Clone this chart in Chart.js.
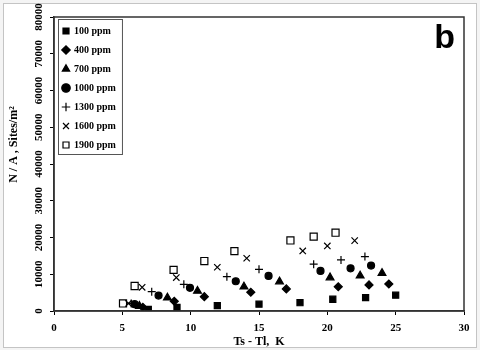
<!DOCTYPE html>
<html>
<head>
<meta charset="utf-8">
<script src="https://cdn.jsdelivr.net/npm/chart.js@4"></script>
<style>
  body { margin: 0; background: #f4f4f4; }
  #frame { position: absolute; left: 3px; top: 3px; width: 472px; height: 343px; border: 1px solid #c4c4c4; background: #fff; }
  #wrap { position: absolute; left: 0; top: 0; width: 480px; height: 350px; }
</style>
</head>
<body>
<div id="frame"></div>
<div id="wrap"><canvas id="chart"></canvas></div>
<script>
// Ts - Tl (K) and N/A (sites/m2) per concentration
const ppmLabels = ["100 ppm", "400 ppm", "700 ppm", "1000 ppm", "1300 ppm", "1600 ppm", "1900 ppm"];

const dt100 = [6.9, 9.0, 11.95, 15.0, 18.0, 20.4, 22.8, 25.0];
const na100 = [450, 1000, 1450, 1850, 2250, 3200, 3650, 4300];

const dt400 = [6.5, 8.8, 11.0, 14.4, 17.0, 20.8, 23.05, 24.5];
const na400 = [1000, 2650, 3900, 5100, 6000, 6600, 7100, 7350];

const dt700 = [6.25, 8.3, 10.5, 13.9, 16.5, 20.2, 22.4, 24.0];
const na700 = [1350, 3600, 5450, 6600, 8000, 9100, 9600, 10300];

const dt1000 = [5.9, 7.65, 9.95, 13.3, 15.7, 19.5, 21.7, 23.2];
const na1000 = [1850, 4200, 6300, 8100, 9550, 10900, 11600, 12350];

const dt1300 = [5.65, 7.15, 9.5, 12.65, 15.0, 19.0, 21.0, 22.75];
const na1300 = [2050, 5250, 7250, 9350, 11350, 12750, 13900, 14800];

const dt1600 = [5.45, 6.45, 8.95, 11.95, 14.1, 18.2, 20.0, 22.0];
const na1600 = [2050, 6450, 9100, 11900, 14350, 16350, 17700, 19150];

const dt1900 = [5.05, 5.9, 8.75, 11.0, 13.2, 17.3, 19.0, 20.6];
const na1900 = [2050, 6800, 11200, 13600, 16300, 19200, 20250, 21300];

const xTicks = [0, 5, 10, 15, 20, 25, 30];
const yTicks = [0, 10000, 20000, 30000, 40000, 50000, 60000, 70000, 80000];

const serif = "'Liberation Serif', 'Times New Roman', serif";

const toPoints = (xs, ys) => xs.map((x, i) => ({ x: x, y: ys[i] }));

const makeSet = (label, xs, ys, style, radius, fill) => ({
  label: label,
  data: toPoints(xs, ys),
  pointStyle: style,
  pointRadius: radius,
  pointHoverRadius: radius,
  backgroundColor: fill,
  borderColor: "#000",
  pointBorderWidth: 1.2,
  showLine: false,
});

// box around the plot, legend frame and the panel letter
const decorations = {
  id: "decorations",
  afterDraw(chart) {
    const ctx = chart.ctx;
    const area = chart.chartArea;
    ctx.save();
    ctx.strokeStyle = "#333";
    ctx.lineWidth = 1.5;
    ctx.strokeRect(area.left, area.top, area.right - area.left, area.bottom - area.top);

    const boxes = chart.legend.legendHitBoxes;
    if (boxes && boxes.length) {
      let l = Infinity, t = Infinity, r = -Infinity, b = -Infinity;
      boxes.forEach((h) => {
        l = Math.min(l, h.left);
        t = Math.min(t, h.top);
        r = Math.max(r, h.left + h.width);
        b = Math.max(b, h.top + h.height);
      });
      ctx.strokeStyle = "#555";
      ctx.lineWidth = 1;
      ctx.strokeRect(l - 4.5, t - 6.5, r - l + 11, b - t + 11);
    }

    ctx.fillStyle = "#000";
    ctx.font = "bold 34px 'Liberation Sans', Arial, sans-serif";
    ctx.textAlign = "right";
    ctx.textBaseline = "alphabetic";
    ctx.fillText("b", area.right - 9, area.top + 31);
    ctx.restore();
  },
};

new Chart(document.getElementById("chart"), {
  type: "scatter",
  data: {
    datasets: [
      makeSet(ppmLabels[0], dt100, na100, "rect", 4.3, "#000"),
      makeSet(ppmLabels[1], dt400, na400, "rectRot", 4, "#000"),
      makeSet(ppmLabels[2], dt700, na700, "triangle", 4.5, "#000"),
      makeSet(ppmLabels[3], dt1000, na1000, "circle", 3.5, "#000"),
      makeSet(ppmLabels[4], dt1300, na1300, "cross", 4, "#000"),
      makeSet(ppmLabels[5], dt1600, na1600, "crossRot", 4.5, "#000"),
      makeSet(ppmLabels[6], dt1900, na1900, "rect", 5, "#fff"),
    ],
  },
  options: {
    responsive: true,
    maintainAspectRatio: false,
    animation: false,
    layout: { padding: { top: 17, right: 16, left: 7, bottom: 0 } },
    plugins: {
      tooltip: { enabled: false },
      legend: {
        position: "chartArea",
        align: "start",
        // empty title only pushes the entries down inside the plot
        title: { display: true, text: "", padding: { top: 5, bottom: 0 }, font: { size: 10 } },
        labels: {
          usePointStyle: true,
          boxWidth: 6,
          boxHeight: 6,
          padding: 9,
          color: "#000",
          font: { family: serif, size: 10, weight: "bold" },
        },
      },
    },
    scales: {
      x: {
        type: "linear",
        min: 0,
        max: 30,
        afterBuildTicks: (scale) => {
          scale.ticks = xTicks.map((v) => ({ value: v }));
        },
        afterFit: (scale) => {
          scale.height = 39;
        },
        grid: { drawOnChartArea: false, drawTicks: true, tickLength: 4, color: "#000" },
        border: { color: "#333", width: 1.5 },
        ticks: {
          color: "#000",
          padding: 7,
          maxRotation: 0,
          font: { family: serif, size: 11, weight: "bold" },
        },
        title: {
          display: true,
          text: "Ts - Tl,  K",
          color: "#000",
          padding: { top: 0, bottom: 1 },
          font: { family: serif, size: 12, weight: "bold" },
        },
      },
      y: {
        type: "linear",
        min: 0,
        max: 80000,
        afterBuildTicks: (scale) => {
          scale.ticks = yTicks.map((v) => ({ value: v }));
        },
        afterFit: (scale) => {
          scale.width = 47;
        },
        grid: { drawOnChartArea: false, drawTicks: true, tickLength: 4, color: "#000" },
        border: { color: "#333", width: 1.5 },
        ticks: {
          color: "#000",
          padding: -3,
          minRotation: 90,
          maxRotation: 90,
          crossAlign: "center",
          callback: (value) => String(value),
          font: { family: serif, size: 11, weight: "bold" },
        },
        title: {
          display: true,
          text: "\u2003\u2003\u2003 N / A , Sites/m\u00B2",
          color: "#000",
          padding: { top: 0, bottom: 0 },
          font: { family: serif, size: 12, weight: "bold" },
        },
      },
    },
  },
  plugins: [decorations],
});
</script>
</body>
</html>
